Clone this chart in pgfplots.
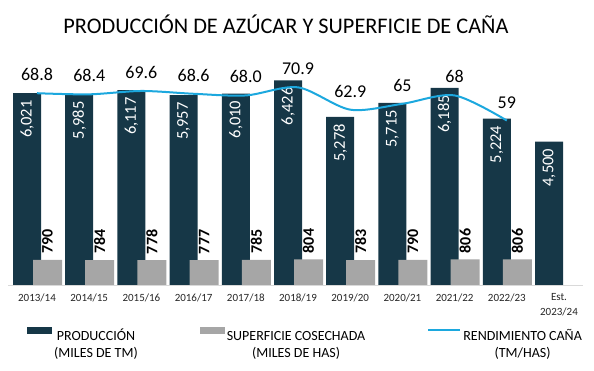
\documentclass[border=0pt]{standalone}
\usepackage{fontspec}
\setmainfont{Carlito}
\usepackage{pgfplots}
\usepackage{pgfplotstable}
\pgfplotsset{compat=1.18}
\definecolor{darkbar}{RGB}{22,55,71}
\definecolor{graybar}{RGB}{166,166,166}
\definecolor{linecol}{RGB}{28,168,222}
\definecolor{baseln}{RGB}{217,217,217}

\pgfplotstableread{
x prod
0 6021
1 5985
2 6117
3 5957
4 6010
5 6426
6 5278
7 5715
8 6185
9 5224
10 4500
}\prodtab

\pgfplotstableread{
x surf
0 790
1 784
2 778
3 777
4 785
5 804
6 783
7 790
8 806
9 806
}\surftab

\pgfplotstableread{
x rend lab
0 68.8 68.8
1 68.4 68.4
2 69.6 69.6
3 68.6 68.6
4 68.0 68.0
5 70.9 70.9
6 62.9 62.9
7 65 65
8 68 68
9 59 59
}\rendtab

\begin{document}
\begin{tikzpicture}
\useasboundingbox (-8.3pt,-86pt) rectangle (585.7pt,285pt);
\begin{axis}[
  at={(0pt,0pt)}, anchor=south west, scale only axis,
  width=574.2pt, height=223pt,
  xmin=-0.55, xmax=10.45, ymin=0, ymax=7000,
  axis y line=none, axis x line*=bottom,
  x axis line style={draw=baseln, line width=0.8pt, -},
  xtick={0,...,10},
  xticklabels={2013/14,2014/15,2015/16,2016/17,2017/18,2018/19,2019/20,2020/21,2021/22,2022/23,{Est.\\2023/24}},
  xticklabel style={font=\fontsize{11}{15}\selectfont, align=center, text=black!85, yshift=-5pt},
  major tick length=0pt,
  /pgf/number format/.cd, fixed, precision=0, 1000 sep={,}, assume math mode=true,
  /pgfplots/.cd,
  legend columns=3,
  legend style={draw=none, fill=none, at={(0.0326,-0.184)}, anchor=north west,
    font=\fontsize{14}{17}\selectfont, inner sep=0pt,
    /tikz/every even column/.append style={column sep=60pt}},
  legend cell align=left,
]
\addplot[ybar, bar width=28pt, bar shift=0pt, fill=darkbar, draw=none,
  nodes near coords, nodes near coords align={anchor=east},
  every node near coord/.append style={rotate=90, anchor=east, text=white, inner xsep=7pt, inner ysep=0pt,
    font=\fontsize{16.5}{18}\selectfont},
  legend image code/.code={\fill[darkbar] (0pt,1pt) rectangle (25pt,8pt);}]
  table[x expr=\thisrow{x}-0.1916, y=prod] {\prodtab};
\addlegendentry{\begin{tabular}[t]{@{}c@{}}PRODUCCIÓN\\(MILES DE TM)\end{tabular}}
\addplot[ybar, bar width=29pt, bar shift=0pt, fill=graybar, draw=none,
  nodes near coords, nodes near coords align={anchor=west},
  every node near coord/.append style={rotate=90, anchor=west, text=black, inner xsep=6pt, inner ysep=0pt,
    font=\fontsize{16}{18}\selectfont\bfseries},
  legend image code/.code={\fill[graybar] (0pt,1pt) rectangle (25pt,8pt);}]
  table[x expr=\thisrow{x}+0.2011, y=surf] {\surftab};
\addlegendentry{\begin{tabular}[t]{@{}c@{}}SUPERFICIE COSECHADA\\(MILES DE HAS)\end{tabular}}
\addlegendimage{legend image code/.code={\draw[linecol, line width=2pt] (0pt,4.5pt) -- (32pt,4.5pt);}}
\addlegendentry{\begin{tabular}[t]{@{}c@{}}RENDIMIENTO CAÑA\\(TM/HAS)\end{tabular}}
\end{axis}
\begin{axis}[
  at={(0pt,0pt)}, anchor=south west, scale only axis,
  width=574.2pt, height=223pt,
  xmin=-0.55, xmax=10.45, ymin=0, ymax=80,
  hide axis, clip=false,
]
\addplot[linecol, line width=2pt, smooth, no marks,
  nodes near coords, point meta=explicit symbolic,
  every node near coord/.append style={anchor=south, yshift=8pt, text=black,
    font=\fontsize{18}{20}\selectfont}]
  table[x=x, y=rend, meta=lab] {\rendtab};
\end{axis}
\node[font=\fontsize{22.3}{24}\selectfont, text=black] at (277.7pt,261pt) {PRODUCCIÓN DE AZÚCAR Y SUPERFICIE DE CAÑA};
\end{tikzpicture}
\end{document}
